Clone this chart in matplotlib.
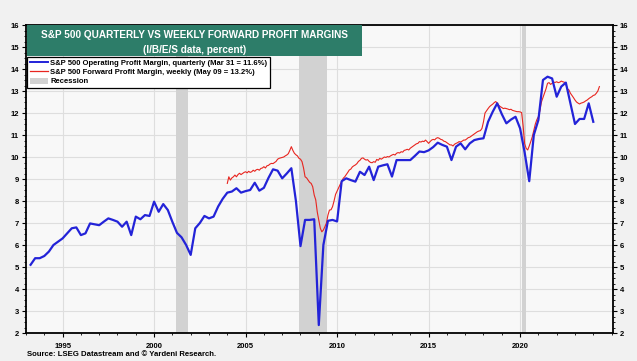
import matplotlib
matplotlib.use("Agg")
import matplotlib.pyplot as plt
from matplotlib.lines import Line2D
from matplotlib.patches import Patch, Rectangle
from matplotlib.ticker import MultipleLocator, FixedLocator
import numpy as np

plt.rcParams['font.family'] = ['Liberation Sans', 'DejaVu Sans']

# ---------------- data ----------------
title_line1 = "S&P 500 QUARTERLY VS WEEKLY FORWARD PROFIT MARGINS"
title_line2 = "(I/B/E/S data, percent)"
label_blue = "S&P 500 Operating Profit Margin, quarterly (Mar 31 = 11.6%)"
label_red = "S&P 500 Forward Profit Margin, weekly (May 09 = 13.2%)"
label_rec = "Recession"
source_text = "Source: LSEG Datastream and \u00a9 Yardeni Research."

# quarterly operating margin, first point Q2 1993, quarterly steps
blue_start = 1993.25
blue_values = (
    [5.1, 5.4, 5.4]                      # 1993
    + [5.5, 5.7, 6.0, 6.15]              # 1994
    + [6.3, 6.53, 6.76, 6.8]             # 1995
    + [6.45, 6.53, 6.98, 6.94]           # 1996
    + [6.9, 7.06, 7.21, 7.14]            # 1997
    + [7.06, 6.83, 7.06, 6.45]           # 1998
    + [7.29, 7.17, 7.36, 7.32]           # 1999
    + [7.97, 7.51, 7.86, 7.59]           # 2000
    + [7.05, 6.55, 6.35, 6.0]            # 2001
    + [5.55, 6.76, 7.0, 7.32]            # 2002
    + [7.21, 7.29, 7.75, 8.1]            # 2003
    + [8.38, 8.43, 8.58, 8.38]           # 2004
    + [8.45, 8.5, 8.83, 8.47]            # 2005
    + [8.6, 9.05, 9.44, 9.38]            # 2006
    + [9.03, 9.25, 9.49, 8.0]            # 2007
    + [5.95, 7.14, 7.14, 7.17]           # 2008
    + [2.36, 6.0, 7.1, 7.14]             # 2009
    + [7.07, 8.9, 9.03, 8.95]            # 2010
    + [8.88, 9.33, 9.18, 9.56]           # 2011
    + [8.95, 9.56, 9.62, 9.67]           # 2012
    + [9.11, 9.86, 9.86, 9.86]           # 2013
    + [9.86, 10.05, 10.25, 10.22]        # 2014
    + [10.3, 10.45, 10.65, 10.55]        # 2015
    + [10.47, 9.86, 10.47, 10.62]        # 2016
    + [10.35, 10.62, 10.77, 10.82]       # 2017
    + [10.85, 11.6, 12.05, 12.44]        # 2018
    + [11.95, 11.53, 11.7, 11.83]        # 2019
    + [11.3, 10.2, 8.9, 11.0]            # 2020
    + [11.68, 13.5, 13.65, 13.57]        # 2021
    + [12.74, 13.2, 13.38, 12.44]        # 2022
    + [11.5, 11.73, 11.73, 12.44]        # 2023
    + [11.6]                             # 2024
)

# forward margin (weekly series, read monthly), starting Jan 2004
red_start = 2004.0
red_values = (
    [8.8, 9.1, 8.95, 9.05, 9.1, 9.18, 9.1, 9.2, 9.26, 9.2, 9.25, 9.3]            # 2004
    + [9.33, 9.28, 9.35, 9.3, 9.33, 9.4, 9.35, 9.42, 9.44, 9.4, 9.48, 9.5]       # 2005
    + [9.56, 9.5, 9.6, 9.62, 9.68, 9.71, 9.7, 9.75, 9.8, 9.9, 9.94, 9.96]        # 2006
    + [9.98, 10.0, 10.05, 10.09, 10.15, 10.3, 10.47, 10.3, 10.17, 10.1, 10.05, 9.94]  # 2007
    + [9.9, 9.79, 9.5, 9.1, 9.05, 8.95, 8.85, 8.8, 8.65, 8.27, 8.05, 7.5]        # 2008
    + [7.14, 6.76, 6.6, 6.68, 6.83, 7.0, 7.36, 7.59, 7.6, 7.74, 8.0, 8.3]        # 2009
    + [8.45, 8.6, 8.75, 8.88, 9.03, 9.1, 9.2, 9.3, 9.41, 9.45, 9.55, 9.6]        # 2010
    + [9.64, 9.7, 9.8, 9.85, 9.94, 9.96, 9.9, 9.86, 9.88, 9.8, 9.75, 9.74]       # 2011
    + [9.79, 9.76, 9.89, 9.85, 9.94, 9.9, 9.95, 10.0, 9.98, 10.02, 10.0, 10.05]  # 2012
    + [10.09, 10.12, 10.09, 10.17, 10.2, 10.18, 10.24, 10.22, 10.3, 10.32, 10.35, 10.32]  # 2013
    + [10.4, 10.45, 10.5, 10.55, 10.6, 10.62, 10.7, 10.68, 10.72, 10.7, 10.77, 10.7]      # 2014
    + [10.62, 10.7, 10.77, 10.8, 10.78, 10.85, 10.88, 10.85, 10.8, 10.78, 10.72, 10.7]    # 2015
    + [10.65, 10.6, 10.55, 10.55, 10.5, 10.58, 10.62, 10.65, 10.7, 10.68, 10.72, 10.77]   # 2016
    + [10.77, 10.82, 10.88, 10.9, 10.95, 11.0, 11.05, 11.1, 11.15, 11.18, 11.2, 11.3]     # 2017
    + [11.6, 12.0, 12.1, 12.2, 12.29, 12.35, 12.4, 12.47, 12.52, 12.45, 12.35, 12.29]     # 2018
    + [12.25, 12.2, 12.22, 12.2, 12.18, 12.15, 12.17, 12.12, 12.1, 12.08, 12.06, 12.06]   # 2019
    + [12.05, 12.02, 11.4, 10.6, 10.39, 10.32, 10.5, 10.7, 10.92, 11.2, 11.5, 11.7]       # 2020
    + [11.83, 12.1, 12.5, 12.7, 12.89, 13.1, 13.35, 13.38, 13.3, 13.35, 13.4, 13.39]      # 2021
    + [13.42, 13.38, 13.4, 13.45, 13.42, 13.4, 13.3, 13.1, 13.05, 12.9, 12.8, 12.7]       # 2022
    + [12.59, 12.5, 12.45, 12.41, 12.45, 12.47, 12.5, 12.55, 12.59, 12.65, 12.7, 12.74]   # 2023
    + [12.8, 12.82, 12.9, 13.0, 13.2]                                                     # 2024
)

recession_starts = [2001.17, 2007.92, 2020.12]
recession_ends = [2001.87, 2009.45, 2020.30]

year_ticks = [1995, 2000, 2005, 2010, 2015, 2020]
y_ticks = list(range(2, 17))

# ---------------- figure ----------------
W, H = 637, 361
fig = plt.figure(figsize=(W / 100, H / 100), dpi=100, facecolor='#f1f1f1')

def fx(px):
    return px / W

def fy(py):
    return 1 - py / H

ax_left, ax_right, ax_top, ax_bottom = 26, 612.5, 25, 333
ax = fig.add_axes([fx(ax_left), fy(ax_bottom), fx(ax_right - ax_left), (ax_bottom - ax_top) / H])
ax.set_facecolor('#f8f8f8')

blue_x = blue_start + 0.25 * np.arange(len(blue_values))
red_x = red_start + np.arange(len(red_values)) / 12.0

for s, e in zip(recession_starts, recession_ends):
    ax.axvspan(s, e, color='#d2d2d2', zorder=1, lw=0)

ax.plot(red_x, red_values, color='#e8251f', lw=0.8, zorder=3)
ax.plot(blue_x, blue_values, color='#2323d8', lw=1.6, zorder=4)

ax.set_xlim(1993.0, 2025.05)
ax.set_ylim(2, 16)

ax.xaxis.set_major_locator(FixedLocator(year_ticks))
ax.set_xticklabels([str(y) for y in year_ticks])
ax.xaxis.set_minor_locator(MultipleLocator(1))
ax.yaxis.set_major_locator(FixedLocator(y_ticks))
ax.yaxis.set_minor_locator(MultipleLocator(0.25))

ax.grid(True, which='major', axis='both', color='#dedede', lw=0.8, zorder=0)
ax.set_axisbelow(True)

ax.tick_params(axis='both', which='major', labelsize=5.5, length=3, width=0.8, direction='out', pad=2)
ax.tick_params(axis='both', which='minor', length=1.5, width=0.6, direction='out')
ax.tick_params(axis='y', which='both', left=True, right=True, labelleft=True, labelright=True)
ax.tick_params(axis='x', which='major', pad=4)
for t in ax.yaxis.get_major_ticks():
    t.label1.set_fontweight('bold')
    t.label2.set_fontweight('bold')
    t.label2.set_fontsize(5.5)
for t in ax.xaxis.get_major_ticks():
    t.label1.set_fontweight('bold')

for sp in ax.spines.values():
    sp.set_color('black')
    sp.set_linewidth(1.3)

# title box
tb_x0, tb_x1, tb_y0, tb_y1 = 27, 362, 25, 56
fig.patches.append(Rectangle((fx(tb_x0), fy(tb_y1)), fx(tb_x1 - tb_x0), (tb_y1 - tb_y0) / H,
                             transform=fig.transFigure, facecolor='#2d7d69', edgecolor='none', zorder=10))
fig.text(fx((tb_x0 + tb_x1) / 2), fy(35), title_line1, color='white', fontsize=7.2, fontweight='bold',
         ha='center', va='center', zorder=11)
fig.text(fx((tb_x0 + tb_x1) / 2), fy(50), title_line2, color='white', fontsize=7.2, fontweight='bold',
         ha='center', va='center', zorder=11)

# legend
handles = [Line2D([], [], color='#2323d8', lw=1.4),
           Line2D([], [], color='#e8251f', lw=0.9),
           Patch(facecolor='#d2d2d2', edgecolor='none')]
leg = ax.legend(handles, [label_blue, label_red, label_rec],
                loc='upper left', bbox_to_anchor=(fx(27), fy(56.5)), bbox_transform=fig.transFigure,
                prop={'weight': 'bold', 'size': 5.5}, frameon=True, fancybox=False,
                edgecolor='black', facecolor='white', framealpha=1,
                borderpad=0.35, labelspacing=0.22, handlelength=2.4, handleheight=0.8,
                handletextpad=0.3, borderaxespad=0)
leg.get_frame().set_linewidth(0.9)
leg.set_zorder(12)

fig.text(fx(27), fy(355), source_text, fontsize=5.6, fontweight='bold', ha='left', va='center')

fig.savefig('out.png', dpi=100, facecolor=fig.get_facecolor())
